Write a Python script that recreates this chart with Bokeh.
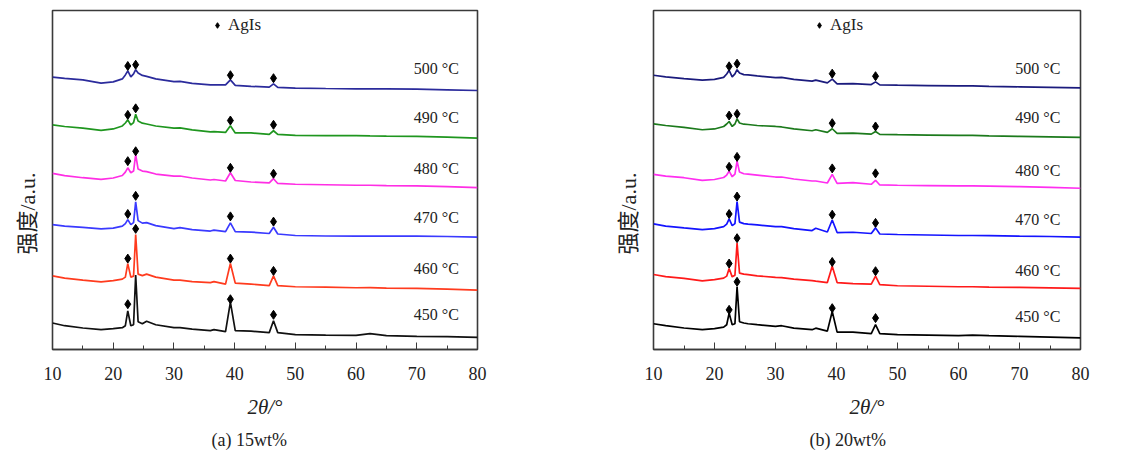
from bokeh.plotting import figure
from bokeh.layouts import row
from bokeh.models import Range1d, SingleIntervalTicker, Label, Legend, LegendItem, ColumnDataSource, Title
from bokeh.embed import file_html
from bokeh.resources import INLINE

# ---------------- data ----------------
two_theta = [10, 12, 15, 18, 20, 21.5, 22.0, 22.4, 22.9, 23.35, 23.7, 24.1, 24.8, 25.5, 27, 30, 31, 33, 36,
             36.6, 38.5, 39.3, 40.1, 42.7, 45.7, 46.4, 47.1, 50, 55, 60, 62.3, 65, 70, 75, 80]
temps = ["500 °C", "490 °C", "480 °C", "470 °C", "460 °C", "450 °C"]
peaks = [22.4, 23.7, 39.3, 46.4]
x_ticks = [10, 20, 30, 40, 50, 60, 70, 80]

# panel (a) 15wt%
a_500 = [274.7, 273.5, 272, 268.7, 270, 273, 277, 281, 275, 278, 282.3, 279, 276.5, 275.5, 273, 270.3, 270.5, 268.5, 267,
         267, 267, 272, 266.5, 265.5, 264.7, 268, 264.5, 263.7, 263.3, 263, 263, 262.9, 262.7, 262, 261.3]
a_490 = [226.7, 225, 223.3, 221, 222.5, 225.5, 228.5, 231.7, 226.5, 229, 237.3, 230.5, 228.3, 227.5, 225.5, 223.3, 223.5,
         221.5, 219.5, 219.8, 219, 225.7, 218.5, 218.5, 217, 220.7, 217, 216, 215.8, 215.7, 215.5, 215.3, 215, 214.3, 213.3]
a_480 = [177.7, 175.5, 173.3, 171.7, 173, 175.5, 179, 183.3, 178.3, 180, 196.7, 182, 180, 179.5, 177, 175, 175, 173, 171,
         171.5, 170, 178.3, 170.5, 169, 168, 172.3, 167.5, 166.7, 166.2, 165.7, 165.7, 165.3, 165, 164.3, 163.3]
a_470 = [126, 124.5, 123.3, 121.7, 122.5, 124.5, 127, 131, 126, 128, 149, 130, 127.5, 128, 125, 122, 123, 121, 119.5,
         120.5, 119, 127.7, 119, 118.5, 117, 123.3, 116.5, 115, 114.5, 114.3, 114.5, 114.3, 114.3, 114, 113.3]
a_460 = [74.3, 72, 70, 68.3, 69.5, 71, 73, 86.7, 73, 74, 116, 76, 74.5, 76, 73, 70, 70, 68.5, 67.5,
         68.5, 66, 86.7, 67, 66, 64.5, 74.3, 64.5, 63.3, 63, 62.3, 62.5, 62, 61.7, 61, 60]
a_450 = [26.7, 24, 21.7, 20, 21, 22, 24, 39, 24, 25, 75, 28, 26, 28.5, 25, 22, 22, 20.5, 19,
         20, 18, 47.7, 19, 18.5, 17, 29, 17, 15, 14.5, 14.3, 16, 14, 13.3, 13, 12.3]
a_marks = [[286, 287.3, 276.7, 273.7],
           [236.7, 243.3, 231, 226.7],
           [190, 200, 183.3, 177.3],
           [136.7, 155, 134.3, 129],
           [91.7, 121.7, 91.7, 79.3],
           [45.7, float("nan"), 50.7, 35]]

# panel (b) 20wt%
b_500 = [276.7, 275, 273.3, 271.7, 272.5, 274.5, 278, 281.7, 275, 278, 282.3, 279, 277.3, 277, 276, 274.3, 274.5, 272.5,
         270.7, 271.7, 269, 272.7, 268, 268.3, 267.3, 270, 267, 266.7, 266.3, 266, 266, 265.5, 265, 264.5, 264]
b_490 = [227.7, 226, 224, 221.7, 222.5, 225, 227.5, 230, 225, 227.5, 232.7, 228.5, 227.3, 227, 226, 225, 224.5, 222.5,
         220.7, 221.7, 219, 222.7, 218, 218.3, 217.3, 220, 217, 216.7, 216.3, 216, 216, 215.5, 215, 214.5, 214]
b_480 = [176.7, 175, 173.3, 170.7, 171.5, 173.5, 176, 180, 174.3, 177, 190, 179, 177.3, 177, 176, 174, 174, 172, 170,
         170, 168, 176.7, 167.5, 168.3, 166.7, 170.7, 166, 165.7, 165.3, 165, 165, 164.8, 164.3, 163.5, 162.7]
b_470 = [126.7, 124.5, 122.7, 121, 122, 124, 126.5, 131.7, 125, 127, 149.3, 128.5, 127, 126.5, 125.7, 124, 124, 122, 120,
         122.3, 118.5, 130.7, 118, 118.3, 117, 122.7, 116.5, 116, 115.5, 115, 115, 114.8, 114.3, 114, 113.3]
b_460 = [75.7, 73.5, 71.7, 69.3, 70.5, 72, 74, 81.7, 73.3, 75, 107.3, 77, 76, 75.5, 74.3, 72.7, 72.5, 71, 69.5,
         69, 67.5, 84, 67.5, 66.5, 66, 74, 65.5, 64.3, 63.8, 63.3, 63.3, 63, 62.7, 62.2, 61.7]
b_450 = [26, 24, 21.7, 20, 21, 22.5, 25, 36.7, 25, 26, 63.3, 28, 26.7, 26, 25, 23.3, 24, 21.5, 20,
         21.5, 18.5, 38.3, 17.5, 17.5, 16, 25, 16, 15, 14.5, 14, 14.5, 14, 13.3, 12.5, 11.7]
b_marks = [[285.7, 288.3, 278.3, 275.7],
           [236, 237.7, 228.3, 225],
           [184.3, 194.3, 182.7, 177.7],
           [136.7, 154.3, 136, 127.7],
           [86.7, 112.3, 88.3, 79],
           [40, 68.3, 41.7, 31.7]]

# label heights (same units as the curves)
a_label_y = [283, 234, 183, 133, 82, 35]
b_label_y = [283, 234, 181, 131, 80, 33]

a_colors = ["#2b2b9c", "#1f961f", "#ff2ee4", "#3a3aff", "#ff3b1e", "#111111"]
b_colors = ["#1b1b7d", "#1c7a1c", "#ff2ef0", "#1414ff", "#ff1a1a", "#000000"]

SERIF = "Liberation Serif"
CJK = "Liberation Serif, Noto Sans CJK SC"


def make_panel(curves, marks, colors, label_y, label_x, caption, cap_off, width, bl, br, legend_x):
    p = figure(width=width, height=456, output_backend="svg", toolbar_location=None,
               x_range=Range1d(10, 80), y_range=Range1d(0, 342),
               min_border_left=bl, min_border_right=br, min_border_top=10, min_border_bottom=104)
    p.background_fill_color = "white"
    p.border_fill_color = "white"
    p.outline_line_color = "#3a3a3a"
    p.outline_line_width = 1.6
    p.xgrid.visible = False
    p.ygrid.visible = False
    p.yaxis.visible = False

    ax = p.xaxis[0]
    ax.ticker = SingleIntervalTicker(interval=10, num_minor_ticks=2)
    ax.major_tick_in = 7
    ax.major_tick_out = 0
    ax.minor_tick_in = 4
    ax.minor_tick_out = 0
    ax.major_tick_line_color = "#3a3a3a"
    ax.minor_tick_line_color = "#3a3a3a"
    ax.axis_line_color = "#3a3a3a"
    ax.axis_line_width = 1.6
    ax.major_label_text_font = SERIF
    ax.major_label_text_font_size = "18px"
    ax.major_label_text_color = "#222222"
    ax.major_label_standoff = 17
    ax.axis_label = "2θ/°"
    ax.axis_label_text_font = SERIF
    ax.axis_label_text_font_style = "italic"
    ax.axis_label_text_font_size = "21px"
    ax.axis_label_text_color = "#222222"
    ax.axis_label_standoff = 12

    mx, my = [], []
    for ys, mk, c, ly, t in zip(curves, marks, colors, label_y, temps):
        p.line(two_theta, ys, line_color=c, line_width=1.7)
        mx.extend(peaks)
        my.extend(mk)
        p.add_layout(Label(x=label_x, y=ly, text=t, text_font=SERIF, text_font_size="16px",
                           text_color="#222222", text_baseline="middle", text_align="left"))
    src = ColumnDataSource(dict(x=mx, y=my))
    r = p.scatter("x", "y", source=src, marker="diamond", size=9, fill_color="black",
                  line_color="black")

    leg = Legend(items=[LegendItem(label="AgIs", renderers=[r])], location=(legend_x, 314),
                 border_line_color=None, background_fill_alpha=0, padding=0, margin=0,
                 glyph_width=14, glyph_height=18, label_standoff=4,
                 label_text_font=SERIF, label_text_font_size="17px", label_text_color="#222222")
    p.add_layout(leg, "center")

    ylab = Title(text="强度/a.u.", align="left", offset=95, vertical_align="top", text_font=CJK,
                 text_font_size="22px", text_font_style="normal", text_color="#222222", standoff=22)
    p.add_layout(ylab, "left")
    cap = Title(text=caption, align="left", offset=cap_off, text_font=SERIF, text_font_size="18px",
                text_font_style="normal", text_color="#222222", standoff=13)
    p.add_layout(cap, "below")
    return p


p1 = make_panel([a_500, a_490, a_480, a_470, a_460, a_450], a_marks, a_colors, a_label_y, 69.5,
                "(a) 15wt%", 159, 568, 52, 91, 158)
p2 = make_panel([b_500, b_490, b_480, b_470, b_460, b_450], b_marks, b_colors, b_label_y, 69.3,
                "(b) 20wt%", 156, 572, 85, 60, 159)

layout = row(p1, p2)
open("out.html", "w").write(file_html(layout, INLINE))
